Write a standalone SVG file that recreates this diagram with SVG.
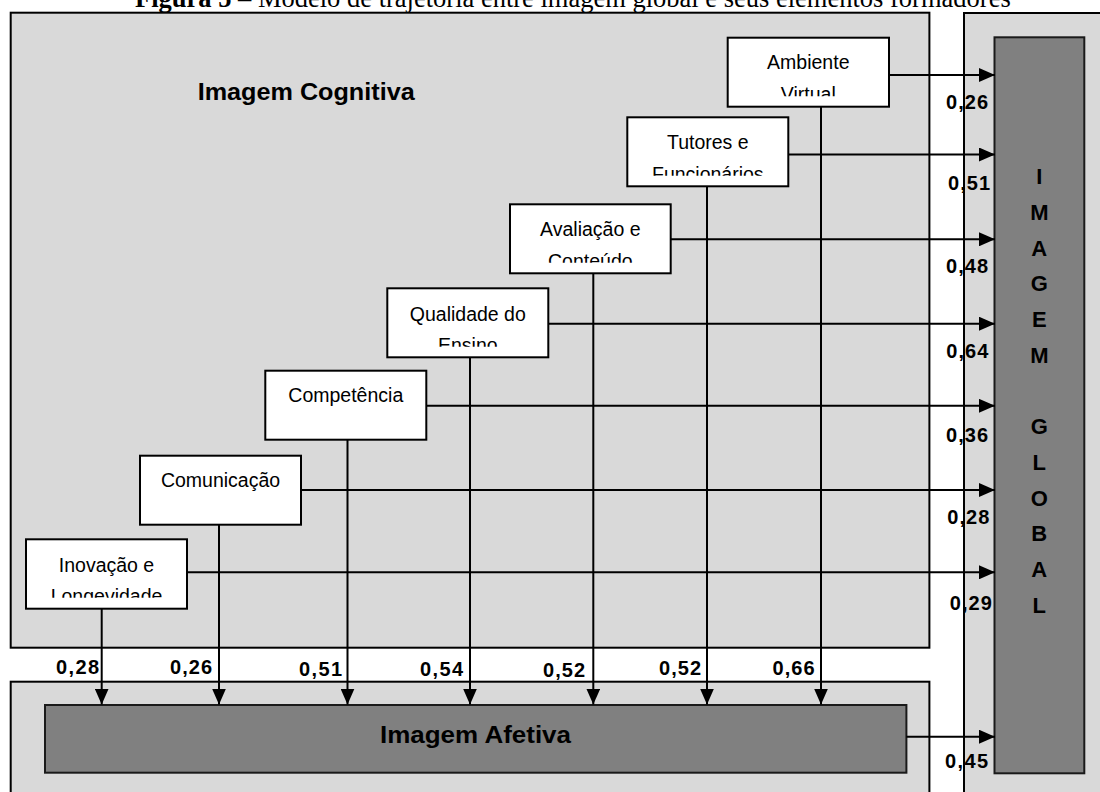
<svg xmlns="http://www.w3.org/2000/svg" width="1100" height="792" viewBox="0 0 1100 792">
<defs>
<style>
.panel{fill:#d9d9d9;stroke:#000;stroke-width:2}
.dark{fill:#808080;stroke:#1a1a1a;stroke-width:2}
.box{fill:#fff;stroke:#000;stroke-width:2}
.bt{font-family:"Liberation Sans",Arial,sans-serif;font-size:19.5px;fill:#000;text-anchor:middle}
.lab{font-family:"Liberation Sans",Arial,sans-serif;font-size:20px;font-weight:bold;fill:#000;text-anchor:end}
.big{font-family:"Liberation Sans",Arial,sans-serif;font-size:24px;font-weight:bold;fill:#000}
.gl{font-family:"Liberation Sans",Arial,sans-serif;font-size:22px;font-weight:bold;fill:#000;text-anchor:middle}
.title{font-family:"Liberation Serif","Times New Roman",serif;font-size:26.5px;fill:#000}
.con line{stroke:#000;stroke-width:2;fill:none}
</style>
<marker id="ah" markerUnits="userSpaceOnUse" markerWidth="16" markerHeight="14" refX="16" refY="7" orient="auto">
<path d="M0,0 L16,7 L0,14 z" fill="#000"/>
</marker>
<clipPath id="cAmb" clipPathUnits="userSpaceOnUse"><rect x="727.7" y="37.7" width="161.3" height="58.5"/></clipPath>
<clipPath id="cTut" clipPathUnits="userSpaceOnUse"><rect x="627.3" y="117.3" width="161" height="58.5"/></clipPath>
<clipPath id="cAva" clipPathUnits="userSpaceOnUse"><rect x="510" y="204.3" width="160.7" height="58.5"/></clipPath>
<clipPath id="cQua" clipPathUnits="userSpaceOnUse"><rect x="387.3" y="288.3" width="161" height="58.5"/></clipPath>
<clipPath id="cIno" clipPathUnits="userSpaceOnUse"><rect x="26" y="539.3" width="161" height="58.5"/></clipPath>
</defs>

<rect width="1100" height="792" fill="#fff"/>

<text class="title" x="135" y="7"><tspan font-weight="bold">Figura 5</tspan> – Modelo de trajetória entre imagem global e seus elementos formadores</text>

<g id="imagem-cognitiva">
<rect class="panel" x="10.7" y="12.7" width="918.7" height="635"/>
<text class="big" x="197.7" y="100" textLength="217" lengthAdjust="spacingAndGlyphs">Imagem Cognitiva</text>
</g>

<g id="coluna-global">
<rect class="panel" x="964" y="13" width="150" height="800"/>
</g>

<g id="imagem-afetiva-painel">
<rect class="panel" x="10.7" y="681.7" width="918.7" height="130"/>
</g>

<g id="imagem-afetiva">
<rect class="dark" x="45" y="705" width="861.4" height="67.7"/>
<text class="big" x="380" y="742.7" textLength="191" lengthAdjust="spacingAndGlyphs">Imagem Afetiva</text>
</g>

<g id="imagem-global">
<rect class="dark" x="994.5" y="37.3" width="89.8" height="736"/>
<text class="gl" x="1039.3" y="184.3">I</text>
<text class="gl" x="1039.3" y="220">M</text>
<text class="gl" x="1039.3" y="255.7">A</text>
<text class="gl" x="1039.3" y="291.4">G</text>
<text class="gl" x="1039.3" y="327.1">E</text>
<text class="gl" x="1039.3" y="362.8">M</text>
<text class="gl" x="1039.3" y="434.2">G</text>
<text class="gl" x="1039.3" y="469.9">L</text>
<text class="gl" x="1039.3" y="505.6">O</text>
<text class="gl" x="1039.3" y="541.3">B</text>
<text class="gl" x="1039.3" y="577">A</text>
<text class="gl" x="1039.3" y="612.7">L</text>
</g>

<g id="ambiente-virtual">
<rect class="box" x="727.7" y="37.7" width="161.3" height="69"/>
<g clip-path="url(#cAmb)"><text class="bt" x="808.3" y="69">Ambiente</text><text class="bt" x="808.3" y="100.5">Virtual</text></g>
</g>
<g id="tutores-funcionarios">
<rect class="box" x="627.3" y="117.3" width="161" height="69"/>
<g clip-path="url(#cTut)"><text class="bt" x="707.8" y="149.3">Tutores e</text><text class="bt" x="707.8" y="180.5">Funcionários</text></g>
</g>
<g id="avaliacao-conteudo">
<rect class="box" x="510" y="204.3" width="160.7" height="69"/>
<g clip-path="url(#cAva)"><text class="bt" x="590.3" y="236.3">Avaliação e</text><text class="bt" x="590.3" y="267.5">Conteúdo</text></g>
</g>
<g id="qualidade-ensino">
<rect class="box" x="387.3" y="288.3" width="161" height="69"/>
<g clip-path="url(#cQua)"><text class="bt" x="467.8" y="320.7">Qualidade do</text><text class="bt" x="467.8" y="351.5">Ensino</text></g>
</g>
<g id="competencia">
<rect class="box" x="265.3" y="370.7" width="161" height="69"/>
<text class="bt" x="345.8" y="401.7">Competência</text>
</g>
<g id="comunicacao">
<rect class="box" x="140" y="455.7" width="161" height="69"/>
<text class="bt" x="220.5" y="486.7">Comunicação</text>
</g>
<g id="inovacao-longevidade">
<rect class="box" x="26" y="539.3" width="161" height="69.4"/>
<g clip-path="url(#cIno)"><text class="bt" x="106.5" y="571.7">Inovação e</text><text class="bt" x="106.5" y="602.7">Longevidade</text></g>
</g>

<g id="conectores" class="con">
<line x1="889" y1="75" x2="995" y2="75" marker-end="url(#ah)"/>
<line x1="788.3" y1="154.5" x2="995" y2="154.5" marker-end="url(#ah)"/>
<line x1="670.7" y1="239.3" x2="995" y2="239.3" marker-end="url(#ah)"/>
<line x1="548.3" y1="323.7" x2="995" y2="323.7" marker-end="url(#ah)"/>
<line x1="426.3" y1="405.8" x2="995" y2="405.8" marker-end="url(#ah)"/>
<line x1="301" y1="490" x2="995" y2="490" marker-end="url(#ah)"/>
<line x1="187" y1="572.3" x2="995" y2="572.3" marker-end="url(#ah)"/>
<line x1="906.4" y1="736.7" x2="995" y2="736.7" marker-end="url(#ah)"/>
<line x1="101.7" y1="608.7" x2="101.7" y2="704.5" marker-end="url(#ah)"/>
<line x1="219" y1="524.7" x2="219" y2="704.5" marker-end="url(#ah)"/>
<line x1="347.5" y1="439.7" x2="347.5" y2="704.5" marker-end="url(#ah)"/>
<line x1="470" y1="357.3" x2="470" y2="704.5" marker-end="url(#ah)"/>
<line x1="593.3" y1="273.3" x2="593.3" y2="704.5" marker-end="url(#ah)"/>
<line x1="707" y1="186.3" x2="707" y2="704.5" marker-end="url(#ah)"/>
<line x1="821" y1="106.7" x2="821" y2="704.5" marker-end="url(#ah)"/>
</g>

<g id="rotulos">
<text class="lab" x="988" y="109" textLength="42">0,26</text>
<text class="lab" x="990" y="190" textLength="42">0,51</text>
<text class="lab" x="988" y="272.7" textLength="42">0,48</text>
<text class="lab" x="988.3" y="358.3" textLength="42">0,64</text>
<text class="lab" x="988" y="441.7" textLength="42">0,36</text>
<text class="lab" x="989.3" y="524.3" textLength="42">0,28</text>
<text class="lab" x="991.8" y="610" textLength="42">0,29</text>
<text class="lab" x="988" y="768" textLength="43">0,45</text>
<text class="lab" x="99" y="674" textLength="43">0,28</text>
<text class="lab" x="212" y="674" textLength="42">0,26</text>
<text class="lab" x="342" y="676" textLength="43">0,51</text>
<text class="lab" x="463" y="676" textLength="43">0,54</text>
<text class="lab" x="585" y="676.7" textLength="42">0,52</text>
<text class="lab" x="701" y="675" textLength="42">0,52</text>
<text class="lab" x="814.6" y="675" textLength="42">0,66</text>
</g>
</svg>
